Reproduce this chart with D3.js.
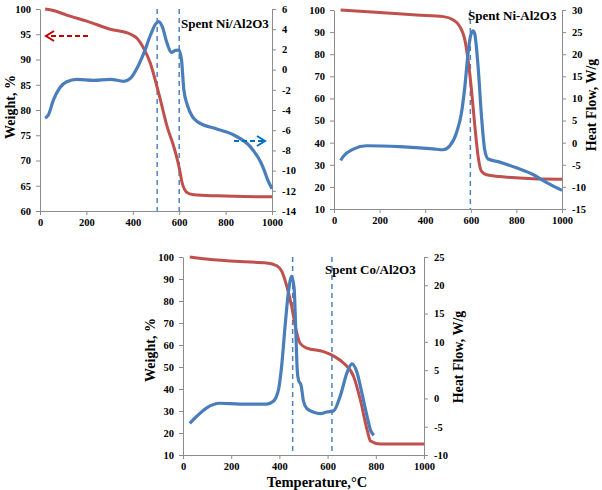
<!DOCTYPE html>
<html><head><meta charset="utf-8">
<script src="https://cdn.jsdelivr.net/npm/d3@7"></script>
<style>
body{margin:0;background:#fff;}
svg text{font-family:"Liberation Serif","Times New Roman",serif !important;font-weight:bold;fill:#000;}
</style></head>
<body>
<svg id="c" width="602" height="490"></svg>
<script>
// ---------- DATA ----------
const tempTicks = [0,200,400,600,800,1000];

// Panel A: Spent Ni/Al2O3
const aTemp   = [22,58,115,202,303,390,418,447,476,502,519,548,577,599,613,635,664,765,1000];
const aWeight = [100,99.7,98.8,97.6,96,95,94.2,92.2,89.2,85,82,76.7,72.7,68.8,65.5,63.6,63.2,63,62.8];
const aHeatT  = [22,36,58,87,115,159,231,303,361,390,418,447,476,498,512,527,548,566,584,599,610,620,635,657,678,765,837,909,952,967,981,1000];
const aHeat   = [-4.8,-4.5,-3.0,-1.75,-1.2,-0.96,-1.06,-0.96,-1.16,-0.86,0.13,1.6,3.4,4.5,4.75,4.25,2.6,1.7,1.9,1.94,0.95,-2.0,-3.5,-4.66,-5.15,-5.9,-6.5,-7.7,-9.2,-10.0,-10.9,-11.8];
const aMarks  = [505,600];
const aWeightTicks = [60,65,70,75,80,85,90,95,100];
const aHeatTicks = [-14,-12,-10,-8,-6,-4,-2,0,2,4,6];

// Panel B: Spent Ni-Al2O3
const bTemp   = [29,216,362,479,523,552,574,588,603,618,632,647,669,727,873,1000];
const bWeight = [100,98.8,97.7,97,95.5,92.5,86.5,77.4,63.9,47.3,33.8,27,25.5,24.7,23.7,23.5];
const bHeatT  = [29,41,85,143,289,435,479,508,537,559,574,588,598,610,617,632,647,661,676,727,800,873,931,1000];
const bHeat   = [-4.0,-3.1,-1.45,-0.7,-0.9,-1.4,-1.6,-0.7,2.2,6.7,12.7,20.2,24,25.3,24.7,17.2,5.9,-1.6,-3.7,-4.4,-5.7,-7.2,-9.0,-10.8];
const bMarks  = [598];
const bWeightTicks = [10,20,30,40,50,60,70,80,90,100];
const bHeatTicks = [-15,-10,-5,0,5,10,15,20,25,30];

// Panel C: Spent Co/Al2O3
const cTemp   = [28,97,236,347,389,410,431,451,469,486,514,583,625,667,708,736,764,778,819,1000];
const cWeight = [100,99.1,97.9,97.3,96,93.5,86.6,77.5,66.9,60.8,58.6,57,55,51.7,45.7,35,21.4,16.4,15,15];
const cHeatT  = [28,56,97,153,236,347,375,396,410,424,438,451,461,468,474,479,490,500,514,540,569,597,625,653,681,701,722,743,764,778,792];
const cHeat   = [-4.4,-3.2,-1.7,-0.85,-1.0,-1.0,-0.5,1.5,6,13,19,21.6,19.5,12,5,3.3,2.3,-0.5,-1.8,-2.4,-2.7,-2.4,-2.2,0.5,4.6,6.1,4.6,0.8,-3.2,-5.6,-6.5];
const cMarks  = [455,618];
const cWeightTicks = [10,20,30,40,50,60,70,80,90,100];
const cHeatTicks = [-10,-5,0,5,10,15,20,25];

// ---------- DRAW ----------
const svg = d3.select("#c");
const RED = "#c0504d", BLUE = "#4a7ebb", AX = "#8c8c8c";
const fmt = d => String(d);

function panel(o){
  const x = d3.scaleLinear().domain([0,1000]).range([o.x0,o.x1]);
  const yw = d3.scaleLinear().domain(o.wDom).range([o.y1,o.y0]);
  const yh = d3.scaleLinear().domain(o.hDom).range([o.y1,o.y0]);
  const g = svg.append("g");

  const style = sel => {
    sel.attr("font-family",null);
    sel.selectAll("path.domain").attr("stroke",AX).attr("stroke-width",1);
    sel.selectAll(".tick line").attr("stroke",AX);
    sel.selectAll("text").style("font-size","10.5px").style("font-family","'Liberation Serif', serif").style("font-weight","bold").attr("fill","#000");
  };
  g.append("g").attr("transform",`translate(0,${o.y1})`)
    .call(d3.axisBottom(x).tickValues(tempTicks).tickFormat(fmt).tickSize(4).tickSizeOuter(0).tickPadding(4)).call(style);
  g.append("g").attr("transform",`translate(${o.x0},0)`)
    .call(d3.axisLeft(yw).tickValues(o.wTicks).tickFormat(fmt).tickSize(4).tickSizeOuter(0).tickPadding(5)).call(style);
  g.append("g").attr("transform",`translate(${o.x1},0)`)
    .call(d3.axisRight(yh).tickValues(o.hTicks).tickFormat(fmt).tickSize(4).tickSizeOuter(0).tickPadding(6)).call(style);

  // dashed marker lines
  o.marks.forEach(m=>{
    g.append("line").attr("x1",x(m)).attr("x2",x(m)).attr("y1",o.y0).attr("y2",o.y1)
      .attr("stroke","#4f81bd").attr("stroke-width",1.5).attr("stroke-dasharray","5,4");
  });

  const lw = d3.line().x((d,i)=>x(o.wT[i])).y(d=>yw(d)).curve(d3.curveMonotoneX);
  const lh = d3.line().x((d,i)=>x(o.hT[i])).y(d=>yh(d)).curve(d3.curveMonotoneX);
  g.append("path").datum(o.w).attr("d",lw).attr("fill","none").attr("stroke",RED).attr("stroke-width",3);
  g.append("path").datum(o.h).attr("d",lh).attr("fill","none").attr("stroke",BLUE).attr("stroke-width",3.2);

  g.append("text").attr("x",o.tx).attr("y",o.ty).style("font-size","13px").text(o.title);
  return {x,yw,yh,g};
}

panel({x0:40,x1:272,y0:9,y1:211,wDom:[60,100],hDom:[-14,6],wTicks:aWeightTicks,hTicks:aHeatTicks,
  wT:aTemp,w:aWeight,hT:aHeatT,h:aHeat,marks:aMarks,title:"Spent Ni/Al2O3",tx:181,ty:28});
panel({x0:334,x1:562,y0:10,y1:209,wDom:[10,100],hDom:[-15,30],wTicks:bWeightTicks,hTicks:bHeatTicks,
  wT:bTemp,w:bWeight,hT:bHeatT,h:bHeat,marks:bMarks,title:"Spent Ni-Al2O3",tx:468,ty:20});
panel({x0:183,x1:424,y0:257,y1:455,wDom:[10,100],hDom:[-10,25],wTicks:cWeightTicks,hTicks:cHeatTicks,
  wT:cTemp,w:cWeight,hT:cHeatT,h:cHeat,marks:cMarks,title:"Spent Co/Al2O3",tx:325,ty:274});

// axis titles
function vtext(x,y,t){
  svg.append("text").attr("transform",`translate(${x},${y}) rotate(-90)`).attr("text-anchor","middle")
    .style("font-size","14px").text(t);
}
vtext(15,107,"Weight, %");
vtext(596,105,"Heat Flow, W/g");
vtext(155,350,"Weight, %");
vtext(463,357,"Heat Flow, W/g");
svg.append("text").attr("x",317).attr("y",487).attr("text-anchor","middle").style("font-size","14.5px").text("Temperature,\u00B0C");

// direction arrows (panel A)
function arrow(x1,x2,y,color){
  svg.append("line").attr("x1",x1).attr("x2",x2).attr("y1",y).attr("y2",y)
    .attr("stroke",color).attr("stroke-width",2).attr("stroke-dasharray","5,3");
  const d = x2>x1 ? 1 : -1;
  svg.append("path").attr("d",`M${x2-d*8},${y-5} L${x2},${y} L${x2-d*8},${y+5}`)
    .attr("fill","none").attr("stroke",color).attr("stroke-width",2);
}
arrow(88,46,36,"#c00000");
arrow(234,265,141,"#0070c0");
</script>
</body></html>
